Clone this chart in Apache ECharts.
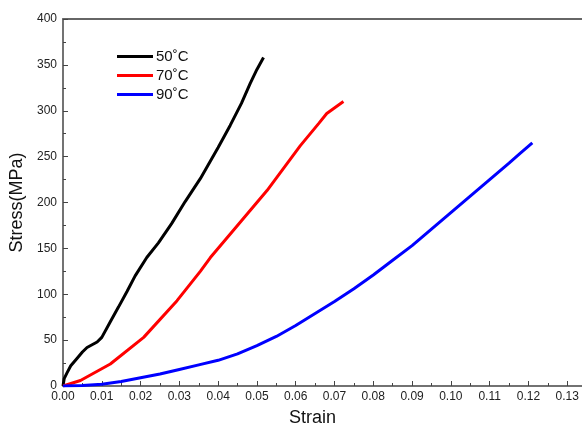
<!DOCTYPE html>
<html><head><meta charset="utf-8">
<script src="https://cdn.jsdelivr.net/npm/echarts@6/dist/echarts.min.js"></script>
<style>html,body{margin:0;padding:0;background:#fff}#c{width:582px;height:427px}</style>
</head><body><div id="c"></div>
<script>
const seriesNames = ['50˚C', '70˚C', '90˚C'];
const seriesColors = ['#000000', '#ff0000', '#0000ff'];
const strain50 = [0, 0.0003, 0.001, 0.002, 0.0036, 0.005, 0.0062, 0.0075, 0.0088, 0.0100, 0.0122, 0.0143, 0.0165, 0.0186, 0.0216, 0.0246, 0.028, 0.0315, 0.0354, 0.040, 0.0431, 0.046, 0.0483, 0.050, 0.0517];
const stress50 = [0, 8, 14, 22, 30, 37, 42, 45, 48, 53, 70, 86, 103, 120, 140, 156, 177, 201, 226, 260, 284, 308, 330, 345, 358];
const strain70 = [0, 0.0045, 0.0122, 0.0208, 0.0294, 0.0354, 0.038, 0.044, 0.0526, 0.0612, 0.0659, 0.068, 0.0723];
const stress70 = [0, 6, 24, 53, 93, 125, 140, 170, 213, 262, 286, 297, 310];
const strain90 = [0, 0.005, 0.01, 0.015, 0.02, 0.025, 0.03, 0.035, 0.04, 0.045, 0.05, 0.055, 0.06, 0.065, 0.07, 0.075, 0.08, 0.085, 0.09, 0.095, 0.10, 0.105, 0.11, 0.115, 0.118, 0.121];
const stress90 = [0, 0.5, 2, 5, 9, 13, 18, 23, 28, 35, 44, 54, 66, 79, 92, 106, 121, 137, 153, 171, 189, 207, 225, 243, 254, 265];
const xTickStep = 0.01, xMax = 0.14;
const yTickStep = 50, yMax = 400;

const zip = (a, b) => a.map((v, i) => [v, b[i]]);
const dataSets = [zip(strain50, stress50), zip(strain70, stress70), zip(strain90, stress90)];

const chart = echarts.init(document.getElementById('c'), null, {renderer: 'canvas'});
const font = 'Liberation Sans, Arial, sans-serif';
chart.setOption({
  animation: false,
  grid: {left: 63, top: 19, width: 543, height: 367, containLabel: false, outerBoundsMode: 'none'},
  legend: {
    orient: 'vertical', left: 112, top: 44, icon: 'rect', itemWidth: 36, itemHeight: 3, itemGap: 4,
    textStyle: {fontFamily: font, fontSize: 15, color: '#111', padding: [0, 0, 0, -2]},
    data: seriesNames
  },
  xAxis: [{
    type: 'value', min: 0, max: xMax, interval: xTickStep,
    name: 'Strain', nameLocation: 'middle', nameGap: 23,
    nameTextStyle: {fontFamily: font, fontSize: 18, color: '#111', padding: [0, 44, 0, 0]},
    axisLine: {show: true, onZero: false, lineStyle: {color: '#444', width: 1.5}},
    axisTick: {show: true, inside: true, length: 5, lineStyle: {color: '#444'}},
    minorTick: {show: true, splitNumber: 2, length: 3, lineStyle: {color: '#444'}},
    splitLine: {show: false},
    axisLabel: {fontFamily: font, fontSize: 12, color: '#222', margin: 5, formatter: v => v.toFixed(2)}
  }, {
    type: 'value', position: 'top', min: 0, max: xMax, interval: xTickStep,
    axisLine: {show: true, onZero: false, lineStyle: {color: '#666', width: 2}},
    axisTick: {show: false}, axisLabel: {show: false}, splitLine: {show: false}
  }],
  yAxis: [{
    type: 'value', min: 0, max: yMax, interval: yTickStep,
    name: 'Stress(MPa)', nameLocation: 'middle', nameGap: 28, nameRotate: 90,
    nameTextStyle: {fontFamily: font, fontSize: 18, color: '#111'},
    axisLine: {show: true, onZero: false, lineStyle: {color: '#444', width: 1.5}},
    axisTick: {show: true, inside: true, length: 5, lineStyle: {color: '#444'}},
    minorTick: {show: true, splitNumber: 2, length: 3, lineStyle: {color: '#444'}},
    splitLine: {show: false},
    axisLabel: {fontFamily: font, fontSize: 12, color: '#222', margin: 6}
  }],
  series: dataSets.map((d, i) => ({
    name: seriesNames[i], type: 'line', data: d, showSymbol: false, symbol: 'none',
    color: seriesColors[i], lineStyle: {width: 3, color: seriesColors[i]}, smooth: false
  }))
});
</script></body></html>
